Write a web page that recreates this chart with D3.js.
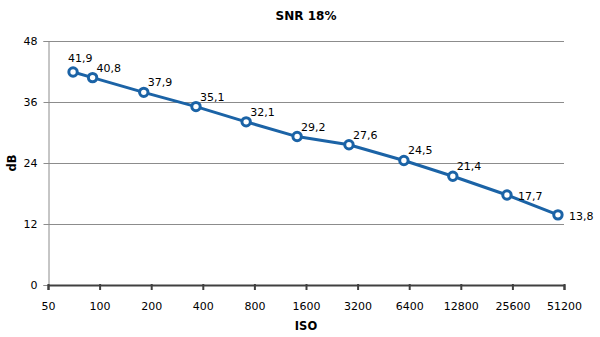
<!DOCTYPE html>
<html><head><meta charset="utf-8">
<script src="https://cdn.jsdelivr.net/npm/d3@7"></script>
<style>
body{margin:0;background:#fff;}
svg{display:block;font-family:"DejaVu Sans",sans-serif;}
</style></head>
<body><svg id="c" width="600" height="337"></svg>
<script>
const title = "SNR 18%";
const yTitle = "dB";
const xTitle = "ISO";
const isoTicks = [50,100,200,400,800,1600,3200,6400,12800,25600,51200];
const yTicks = [0,12,24,36,48];
// measured ISO (x) and SNR 18% (dB)
const isoMeasured = [70, 91, 181, 365, 716, 1420, 2850, 5960, 11500, 23800, 47200];
const snr = [41.9, 40.8, 37.9, 35.1, 32.1, 29.2, 27.6, 24.5, 21.4, 17.7, 13.8];
const labelSide = ["upleft","up","up","up","up","up","up","up","up","right","right"];

const svg = d3.select("#c");
const m = {l:48, r:36, t:41, b:52};
const W = 600, H = 337;
const x = d3.scaleLog().base(2).domain([50,51200]).range([m.l, W-m.r]);
const y = d3.scaleLinear().domain([0,48]).range([H-m.b, m.t]);

// gridlines
svg.append("g").selectAll("line").data(yTicks.filter(d=>d>0)).join("line")
  .attr("x1", m.l).attr("x2", W-m.r)
  .attr("y1", d=>Math.round(y(d))+0.5).attr("y2", d=>Math.round(y(d))+0.5)
  .attr("stroke","#8c8c8c").attr("stroke-width",1);

// y axis
const ya = svg.append("g").attr("transform",`translate(${m.l+0.5},0)`)
  .call(d3.axisLeft(y).tickValues(yTicks).tickSize(5).tickPadding(6).tickFormat(d3.format("d")));
ya.select(".domain").attr("stroke","#8c8c8c");
ya.selectAll(".tick line").attr("stroke","#8c8c8c");
ya.selectAll("text").attr("font-size","11px").attr("fill","#000").attr("font-family","DejaVu Sans");

// x axis
const xa = svg.append("g").attr("transform",`translate(0,${Math.round(y(0))})`)
  .call(d3.axisBottom(x).tickValues(isoTicks).tickSize(5).tickPadding(12).tickFormat(d=>String(d)));
xa.select(".domain").attr("stroke","#404040").attr("stroke-width",2);
xa.selectAll(".tick line").attr("stroke","#404040").attr("stroke-width",2).attr("y1",-1);
xa.selectAll("text").attr("font-size","11px").attr("fill","#000").attr("font-family","DejaVu Sans");

// line
const pts = isoMeasured.map((iso,i)=>({iso, v:snr[i], side:labelSide[i]}));
svg.append("path").datum(pts)
  .attr("d", d3.line().x(d=>x(d.iso)).y(d=>y(d.v)))
  .attr("fill","none").attr("stroke","#1b63a6").attr("stroke-width",3).attr("stroke-linejoin","round");
svg.append("g").selectAll("circle").data(pts).join("circle")
  .attr("cx", d=>x(d.iso)).attr("cy", d=>y(d.v)).attr("r",4.2)
  .attr("fill","#fff").attr("stroke","#1b63a6").attr("stroke-width",3);

// labels
const fmt = v => v.toFixed(1).replace(".",",");
svg.append("g").selectAll("text").data(pts).join("text")
  .attr("x", d=> x(d.iso) + (d.side==="upleft" ? -5 : d.side==="right" ? 11 : 4))
  .attr("y", d=> y(d.v) + (d.side==="upleft" ? -10 : d.side==="right" ? 5 : -6))
  .attr("font-size","11px").attr("fill","#000")
  .text(d=>fmt(d.v));

// titles
svg.append("text").attr("x",306).attr("y",20).attr("text-anchor","middle")
  .attr("font-size","12px").attr("font-weight","bold").text(title);
svg.append("text").attr("transform","translate(16,163) rotate(-90)").attr("text-anchor","middle")
  .attr("font-size","11.5px").attr("font-weight","bold").text(yTitle);
svg.append("text").attr("x",306).attr("y",330).attr("text-anchor","middle")
  .attr("font-size","11.5px").attr("font-weight","bold").text(xTitle);
</script></body></html>
